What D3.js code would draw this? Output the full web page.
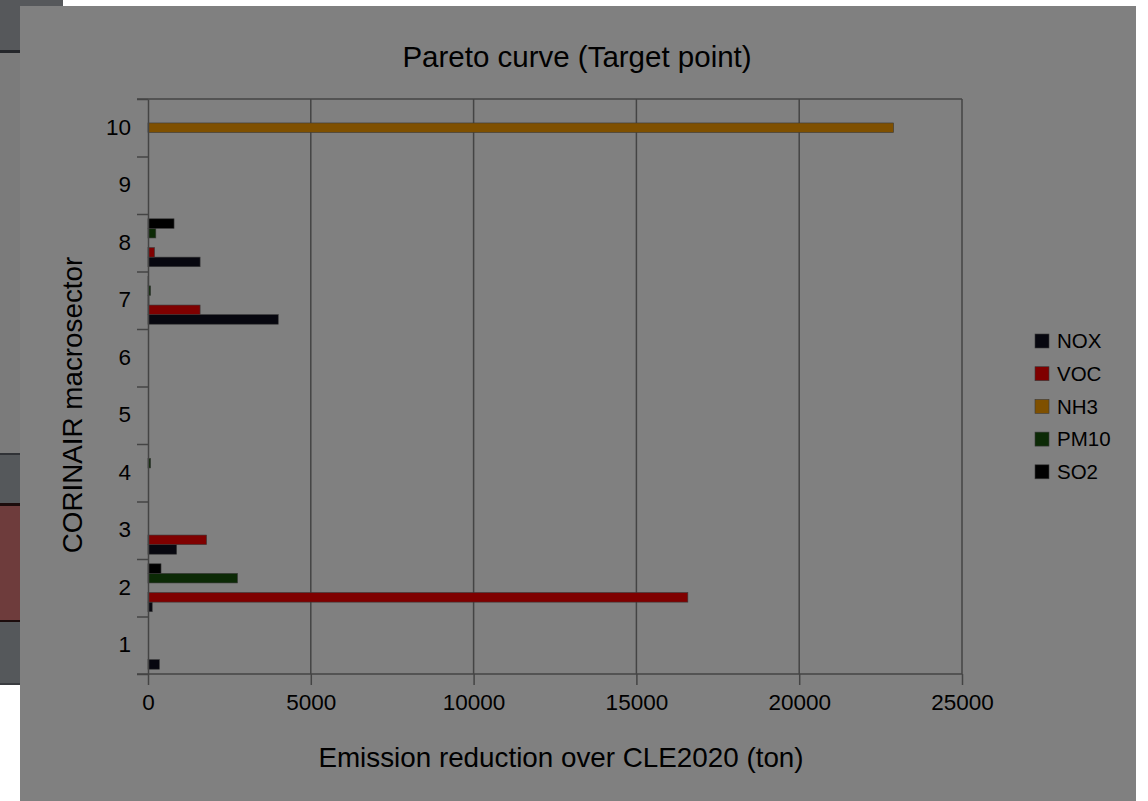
<!DOCTYPE html>
<html>
<head>
<meta charset="utf-8">
<script src="https://cdn.jsdelivr.net/npm/d3@7"></script>
<style>
  body { margin: 0; background: #ffffff; overflow: hidden; }
  text { font-family: "Liberation Sans", Arial, sans-serif; fill: #000; }
</style>
</head>
<body>
<div class="segment"></div>
<script>
var width = 1148, height = 801;

// data
var categories = ["1", "2", "3", "4", "5", "6", "7", "8", "9", "10"];
var seriesNames = ["NOX", "VOC", "NH3", "PM10", "SO2"];
var seriesColors = ["#07070f", "#7f0000", "#7f5000", "#0c2a06", "#000000"];
var nox  = [350, 130, 880, 0, 0, 0, 4000, 1600, 0, 0];
var voc  = [0, 16580, 1800, 0, 0, 0, 1600, 200, 0, 0];
var nh3  = [0, 0, 0, 0, 0, 0, 30, 0, 0, 22900];
var pm10 = [0, 2750, 0, 80, 0, 0, 80, 240, 0, 0];
var so2  = [0, 400, 0, 0, 0, 0, 20, 800, 0, 0];
var xTicks = [0, 5000, 10000, 15000, 20000, 25000];

var seriesValues = [nox, voc, nh3, pm10, so2];

var svg1 = d3.select(".segment")
  .append("svg")
  .attr("width", width)
  .attr("height", height);

// bits of the window behind the dimmed dialog
var bg = svg1.append("g");
bg.append("rect").attr("x", 0).attr("y", 0).attr("width", 63).attr("height", 6).attr("fill", "#56585b");
bg.append("rect").attr("x", 0).attr("y", 0).attr("width", 20).attr("height", 50).attr("fill", "#56585b");
bg.append("rect").attr("x", 0).attr("y", 50).attr("width", 20).attr("height", 3).attr("fill", "#25272b");
bg.append("rect").attr("x", 0).attr("y", 53).attr("width", 20).attr("height", 400).attr("fill", "#7b7b7b");
bg.append("rect").attr("x", 0).attr("y", 453).attr("width", 20).attr("height", 232).attr("fill", "#55585b");
bg.append("rect").attr("x", 0).attr("y", 453).attr("width", 20).attr("height", 2).attr("fill", "#303236");
bg.append("rect").attr("x", 0).attr("y", 503).attr("width", 20).attr("height", 119).attr("fill", "#1c0c0c");
bg.append("rect").attr("x", 0).attr("y", 506).attr("width", 20).attr("height", 114).attr("fill", "#6e3c3c");
bg.append("rect").attr("x", 0).attr("y", 683).attr("width", 20).attr("height", 2).attr("fill", "#3a3c40");

// dialog panel
svg1.append("rect")
  .attr("x", 20).attr("y", 6)
  .attr("width", 1116).attr("height", 795)
  .attr("fill", "#808080");

var plotL = 148, plotR = 962, plotT = 99, plotB = 674;

var x = d3.scaleLinear().domain([0, 25000]).range([plotL, plotR]);
var y = d3.scaleBand().domain(categories.slice().reverse()).range([plotT, plotB]).paddingInner(0);
var yEdge = d3.scaleLinear().domain([0, 10]).range([plotB, plotT]);
// series stacked inside a category, first series at the bottom
var ySub = d3.scaleBand().domain(seriesNames.slice().reverse()).range([0, y.bandwidth()]).paddingInner(0).paddingOuter(0.5);

// gridlines
svg1.append("g").selectAll("line")
  .data(xTicks.slice(1))
  .enter().append("line")
  .attr("x1", function (d) { return x(d); })
  .attr("x2", function (d) { return x(d); })
  .attr("y1", plotT).attr("y2", plotB)
  .attr("stroke", "#444").attr("stroke-width", 1.5);

// top border
svg1.append("line")
  .attr("x1", plotL - 11).attr("x2", plotR)
  .attr("y1", plotT).attr("y2", plotT)
  .attr("stroke", "#444").attr("stroke-width", 1.5);

// bars
var rows = [];
seriesNames.forEach(function (s, i) {
  categories.forEach(function (c, j) {
    rows.push({ series: s, cat: c, value: seriesValues[i][j], color: seriesColors[i] });
  });
});

svg1.append("g").selectAll("rect")
  .data(rows.filter(function (d) { return d.value > 0; }))
  .enter().append("rect")
  .attr("x", x(0))
  .attr("y", function (d) { return y(d.cat) + ySub(d.series); })
  .attr("width", function (d) { return x(d.value) - x(0); })
  .attr("height", ySub.bandwidth())
  .attr("fill", function (d) { return d.color; })
  .attr("stroke", "#3a3a3a")
  .attr("stroke-width", 0.6);

// axes
var xAxis = svg1.append("g")
  .attr("transform", "translate(0," + plotB + ")")
  .call(d3.axisBottom(x).tickValues(xTicks).tickFormat(d3.format("d")).tickSize(11).tickSizeOuter(0).tickPadding(9));
xAxis.select(".domain").attr("stroke", "#444").attr("stroke-width", 1.5).attr("d", "M" + (plotL - 11) + ",0H" + plotR);
xAxis.selectAll(".tick line").attr("stroke", "#444").attr("stroke-width", 1.5);
xAxis.selectAll("text").style("font-size", "22.5px").attr("fill", "#000");

var yTicksAxis = svg1.append("g")
  .attr("transform", "translate(" + plotL + ",0)")
  .call(d3.axisLeft(yEdge).tickValues(d3.range(0, 11)).tickFormat("").tickSize(11).tickSizeOuter(0));
yTicksAxis.select(".domain").attr("stroke", "#444").attr("stroke-width", 1.5);
yTicksAxis.selectAll(".tick line").attr("stroke", "#444").attr("stroke-width", 1.5);

var yAxis = svg1.append("g")
  .attr("transform", "translate(" + plotL + ",0)")
  .call(d3.axisLeft(y).tickSize(0).tickPadding(17));
yAxis.select(".domain").remove();
yAxis.selectAll("text").style("font-size", "22.5px").attr("fill", "#000");

// titles
svg1.append("text")
  .attr("x", 577).attr("y", 67)
  .attr("text-anchor", "middle")
  .style("font-size", "29.5px")
  .text("Pareto curve (Target point)");

svg1.append("text")
  .attr("x", 561).attr("y", 767)
  .attr("text-anchor", "middle")
  .style("font-size", "27.8px")
  .text("Emission reduction over CLE2020 (ton)");

svg1.append("text")
  .attr("transform", "translate(82,405) rotate(-90)")
  .attr("text-anchor", "middle")
  .style("font-size", "27.8px")
  .text("CORINAIR macrosector");

// legend
var legend = svg1.append("g").selectAll("g")
  .data(seriesNames)
  .enter().append("g")
  .attr("transform", function (d, i) { return "translate(1035," + (341 + i * 32.7) + ")"; });

legend.append("rect")
  .attr("x", 0).attr("y", -7)
  .attr("width", 14).attr("height", 14)
  .attr("fill", function (d, i) { return seriesColors[i]; })
  .attr("stroke", "#3a3a3a").attr("stroke-width", 0.6);

legend.append("text")
  .attr("x", 22).attr("y", 0).attr("dy", "0.36em")
  .style("font-size", "20.5px")
  .text(function (d) { return d; });
</script>
</body>
</html>
